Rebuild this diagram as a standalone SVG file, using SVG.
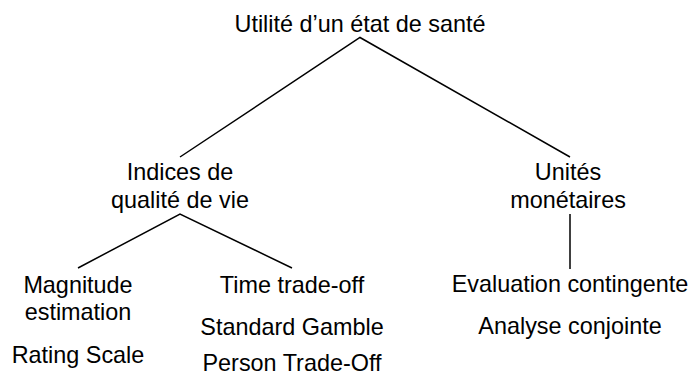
<svg xmlns="http://www.w3.org/2000/svg" width="693" height="378" viewBox="0 0 693 378">
<style>
text{font-family:"Liberation Sans",Arial,sans-serif;font-size:23.4px;fill:#000;text-anchor:middle}
.c{stroke:#000;stroke-width:1.5;fill:none}
</style>
<rect width="693" height="378" fill="#fff"/>
<g id="connectors">
<polyline class="c" points="180,157 360,37.5 570,157"/>
<polyline class="c" points="78,268 180,214 292,268"/>
<line class="c" x1="570" y1="214" x2="570" y2="269"/>
</g>
<g id="root"><text x="360" y="32">Utilité d’un état de santé</text></g>
<g id="indices"><text x="180" y="180">Indices de</text><text x="180" y="208">qualité de vie</text></g>
<g id="unites"><text x="568" y="180">Unités</text><text x="568" y="208">monétaires</text></g>
<g id="magnitude"><text x="78" y="293">Magnitude</text><text x="78" y="320">estimation</text></g>
<g id="rating"><text x="78" y="363">Rating Scale</text></g>
<g id="tto"><text x="292" y="293">Time trade-off</text></g>
<g id="sg"><text x="292" y="335">Standard Gamble</text></g>
<g id="pto"><text x="292" y="371">Person Trade-Off</text></g>
<g id="eval"><text x="570" y="292">Evaluation contingente</text></g>
<g id="conj"><text x="570" y="334">Analyse conjointe</text></g>
</svg>
